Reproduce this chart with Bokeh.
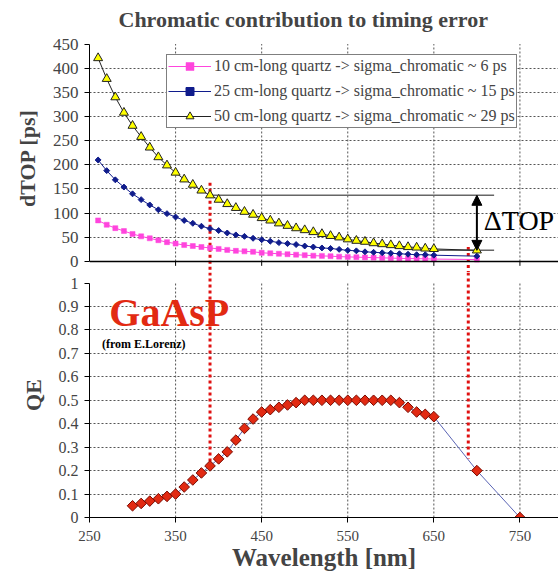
from bokeh.plotting import figure
from bokeh.layouts import column, row
from bokeh.models import (Range1d, FixedTicker, Legend, LegendItem, Span, Label,
                          Arrow, NormalHead, CustomJSTickFormatter, Spacer, LinearAxis)
from bokeh.embed import file_html
from bokeh.resources import INLINE

# ---------------- data ----------------
wl_top = [260, 270, 280, 290, 300, 310, 320, 330, 340, 350, 360, 370, 380, 390,
          400, 410, 420, 430, 440, 450, 460, 470, 480, 490, 500, 510, 520, 530,
          540, 550, 560, 570, 580, 590, 600, 610, 620, 630, 640, 650, 700]
dtop_10 = [85, 76, 69, 63, 57, 52, 48, 44, 40, 37, 34, 32, 30, 28, 26, 24, 22, 21,
           20, 18, 17, 16, 15, 14, 13, 12, 11.5, 11, 10, 9.5, 9, 8.5, 8, 7.5, 7,
           6.5, 6, 6, 5.5, 5, 4]
dtop_25 = [210, 188, 169, 154, 140, 128, 117, 107, 99, 92, 85, 79, 73, 68, 64, 59,
           55, 52, 48, 45, 42, 39, 37, 35, 32, 30, 28, 27, 25, 23, 22, 20, 19, 18,
           17, 16, 15, 14, 14, 13, 11]
dtop_50 = [421, 378, 340, 308, 281, 258, 236, 216, 199, 184, 170, 159, 147, 137,
           128, 119, 111, 103, 97, 90, 85, 79, 74, 69, 65, 61, 57, 53, 50, 46, 43,
           41, 38, 36, 34, 32, 30, 29, 27, 26, 23]
series_labels = ["10 cm-long quartz -> sigma_chromatic ~ 6 ps",
                 "25 cm-long quartz -> sigma_chromatic ~ 15 ps",
                 "50 cm-long quartz -> sigma_chromatic ~ 29 ps"]

wl_qe = [300, 310, 320, 330, 340, 350, 360, 370, 380, 390, 400, 410, 420, 430,
         440, 450, 460, 470, 480, 490, 500, 510, 520, 530, 540, 550, 560, 570,
         580, 590, 600, 610, 620, 630, 640, 650, 700, 750]
qe = [0.05, 0.06, 0.07, 0.08, 0.09, 0.10, 0.13, 0.16, 0.19, 0.22, 0.25, 0.28,
      0.33, 0.38, 0.42, 0.45, 0.46, 0.47, 0.48, 0.49, 0.50, 0.50, 0.50, 0.50,
      0.50, 0.50, 0.50, 0.50, 0.50, 0.50, 0.50, 0.49, 0.47, 0.45, 0.44, 0.43,
      0.20, 0.0]

x_ticks = [250, 350, 450, 550, 650, 750]
dtop_ticks = [0, 50, 100, 150, 200, 250, 300, 350, 400, 450]
qe_ticks = [0, 0.1, 0.2, 0.3, 0.4, 0.5, 0.6, 0.7, 0.8, 0.9, 1.0]

cut_wl = [390, 690]          # red dotted cut wavelengths
cut_top = [163, 30]          # where the red lines start in the dTOP panel
cut_qe = [0.24, 0.25]        # where the red lines end in the QE panel
delta_line_end = 720         # right end of the ΔTOP guide lines

TITLE = "Chromatic contribution to timing error"

# ---------------- style ----------------
SERIF = "Liberation Serif"
PINK = "#ff45dd"
NAVY = "#101c8c"
YELLOW = "#ffff00"
RED = "#e22a12"
RED_DOT = "#e01010"
GRID = "#555555"
BG = "#0a14aa"

X_START, X_END = 250, 794.8
TOP_Y = (-22.8, 451.1)
BOT_Y = (0, 1.045)

# ---------------- top panel ----------------
top = figure(width=547, height=266, x_range=Range1d(X_START, X_END),
             y_range=Range1d(*TOP_Y), output_backend="svg", toolbar_location=None,
             x_axis_location=None, min_border_left=73, min_border_right=0,
             min_border_top=37, min_border_bottom=0, outline_line_color=None,
             background_fill_color="white", border_fill_color="white")
top.title.text = TITLE
top.title.text_font = SERIF
top.title.text_font_size = "22px"
top.title.text_font_style = "bold"
top.title.align = "left"
top.title.offset = 29
top.title.vertical_align = "top"
top.title.standoff = 0

# invisible spacer axis between title and frame: one hidden tick, blank label
spacer_axis = LinearAxis(ticker=FixedTicker(ticks=[x_ticks[1]]), axis_line_color=None,
                         major_tick_out=10, major_tick_in=0, minor_tick_out=0,
                         minor_tick_in=0, major_label_standoff=0,
                         major_tick_line_color=None, minor_tick_line_color=None,
                         formatter=CustomJSTickFormatter(code="return '';"))
top.add_layout(spacer_axis, "above")

ya = top.yaxis[0]
ya.ticker = FixedTicker(ticks=dtop_ticks)
ya.bounds = (dtop_ticks[0], dtop_ticks[-1])
ya.axis_label = "dTOP [ps]"
ya.axis_label_text_font = SERIF
ya.axis_label_text_font_size = "22px"
ya.axis_label_text_font_style = "bold"
ya.axis_label_standoff = 10
ya.major_label_text_font = SERIF
ya.major_label_text_font_size = "17px"
ya.major_label_standoff = 6
ya.major_tick_out = 5
ya.major_tick_in = 0
ya.minor_tick_out = 0
ya.minor_tick_in = 0
ya.axis_line_color = "black"

top.xgrid.visible = False
top.ygrid.ticker = FixedTicker(ticks=dtop_ticks[1:-1])
top.ygrid.grid_line_color = GRID
top.ygrid.grid_line_dash = "2 2"
top.ygrid.grid_line_width = 1

grid_x = x_ticks[1:]
top.segment(x0=grid_x, y0=[dtop_ticks[0]] * len(grid_x), x1=grid_x,
            y1=[dtop_ticks[-1]] * len(grid_x), line_color=GRID, line_dash="2 2",
            line_width=1)
top.segment(x0=grid_x, y0=[0] * len(grid_x), x1=grid_x, y1=[-9] * len(grid_x),
            line_color="black", line_width=1)
top.add_layout(Span(location=0, dimension="width", line_color="black", line_width=1.5))

# red dotted cut lines (upper part)
top.segment(x0=cut_wl, y0=cut_top, x1=cut_wl, y1=[TOP_Y[0]] * 2,
            line_color=RED_DOT, line_width=3, line_dash="3 3")

# ΔTOP guides
i390 = wl_top.index(cut_wl[0])
hi = dtop_50[i390]
lo = dtop_50[-1]
top.segment(x0=[cut_wl[0], wl_top[-2]], y0=[hi, lo], x1=[delta_line_end] * 2,
            y1=[hi, lo], line_color="#666666", line_width=1.5)

r10l = top.line(wl_top, dtop_10, line_color=PINK, line_width=1)
r10m = top.scatter(wl_top, dtop_10, marker="square", size=5, fill_color=PINK,
                   line_color=PINK, line_width=0.5)
r25l = top.line(wl_top, dtop_25, line_color=NAVY, line_width=1)
r25m = top.scatter(wl_top, dtop_25, marker="square", angle=0.785, size=4.2,
                   fill_color=NAVY, line_color=NAVY)
r50l = top.line(wl_top, dtop_50, line_color="#222222", line_width=1)
r50m = top.scatter(wl_top, dtop_50, marker="triangle", size=9, fill_color=YELLOW,
                   line_color="#222222", line_width=1)

top.add_layout(Arrow(start=NormalHead(size=10, fill_color="black", line_color="black"),
                     end=NormalHead(size=10, fill_color="black", line_color="black"),
                     x_start=wl_top[-1], y_start=lo, x_end=wl_top[-1], y_end=hi,
                     line_color="black", line_width=2))
top.add_layout(Label(x=708, y=85, text="ΔTOP", text_font=SERIF, text_font_size="28px",
                     text_color="black", text_baseline="middle"))

legend = Legend(items=[LegendItem(label=series_labels[0], renderers=[r10l, r10m]),
                       LegendItem(label=series_labels[1], renderers=[r25l, r25m]),
                       LegendItem(label=series_labels[2], renderers=[r50l, r50m])],
                location=(77, 144), margin=0, padding=1, spacing=5,
                glyph_width=43, glyph_height=20, label_height=20, label_standoff=3,
                label_text_font=SERIF, label_text_font_size="16px",
                border_line_color="black", border_line_width=1,
                background_fill_color="white", background_fill_alpha=1)
top.add_layout(legend)

# ---------------- bottom panel ----------------
bot = figure(width=547, height=303, x_range=top.x_range, y_range=Range1d(*BOT_Y),
             output_backend="svg", toolbar_location=None, min_border_left=73,
             min_border_right=0, min_border_top=0, min_border_bottom=58,
             outline_line_color=None, background_fill_color="white",
             border_fill_color="white")

xa = bot.xaxis[0]
xa.ticker = FixedTicker(ticks=x_ticks)
xa.axis_label = "Wavelength [nm]"
xa.axis_label_text_font = SERIF
xa.axis_label_text_font_size = "25px"
xa.axis_label_text_font_style = "bold"
xa.axis_label_standoff = 0
xa.major_label_text_font = SERIF
xa.major_label_text_font_size = "15px"
xa.major_label_standoff = 8
xa.major_tick_out = 5
xa.major_tick_in = 0
xa.minor_tick_out = 0
xa.minor_tick_in = 0
xa.axis_line_color = "black"

yb = bot.yaxis[0]
yb.ticker = FixedTicker(ticks=qe_ticks)
yb.bounds = (qe_ticks[0], qe_ticks[-1])
yb.formatter = CustomJSTickFormatter(code="return String(Number(tick.toFixed(1)));")
yb.axis_label = "QE"
yb.axis_label_text_font = SERIF
yb.axis_label_text_font_size = "22px"
yb.axis_label_text_font_style = "bold"
yb.axis_label_standoff = 10
yb.major_label_text_font = SERIF
yb.major_label_text_font_size = "16px"
yb.major_label_standoff = 6
yb.major_tick_out = 5
yb.major_tick_in = 0
yb.minor_tick_out = 0
yb.minor_tick_in = 0
yb.axis_line_color = "black"

bot.xgrid.visible = False
bot.ygrid.ticker = FixedTicker(ticks=qe_ticks[1:-1])
bot.ygrid.grid_line_color = GRID
bot.ygrid.grid_line_dash = "2 2"
bot.ygrid.grid_line_width = 1
bot.segment(x0=grid_x, y0=[qe_ticks[0]] * len(grid_x), x1=grid_x,
            y1=[qe_ticks[-1]] * len(grid_x), line_color=GRID, line_dash="2 2",
            line_width=1)

# red dotted cut lines (lower part)
bot.segment(x0=cut_wl, y0=[BOT_Y[1]] * 2, x1=cut_wl, y1=cut_qe,
            line_color=RED_DOT, line_width=3, line_dash="3 3")

bot.line(wl_qe, qe, line_color="#5a64b4", line_width=1)
bot.scatter(wl_qe, qe, marker="square", angle=0.785, size=7.5, fill_color=RED,
            line_color="#7a0a00", line_width=1)

bot.add_layout(Label(x=273, y=0.874, text="GaAsP", text_font=SERIF,
                     text_font_size="40px", text_font_style="bold",
                     text_color=RED, text_baseline="middle"))
bot.add_layout(Label(x=264.5, y=0.738, text="(from E.Lorenz)", text_font=SERIF,
                     text_font_size="12px", text_font_style="bold",
                     text_color="black", text_baseline="middle"))

layout = row(Spacer(width=11, height=575),
             column(Spacer(width=547, height=6), top, bot, spacing=0),
             spacing=0)

html = file_html(layout, INLINE, title=TITLE)
html = html.replace("<body>", '<body style="margin:0;padding:0;background:%s;">' % BG, 1)
open("out.html", "w").write(html)
